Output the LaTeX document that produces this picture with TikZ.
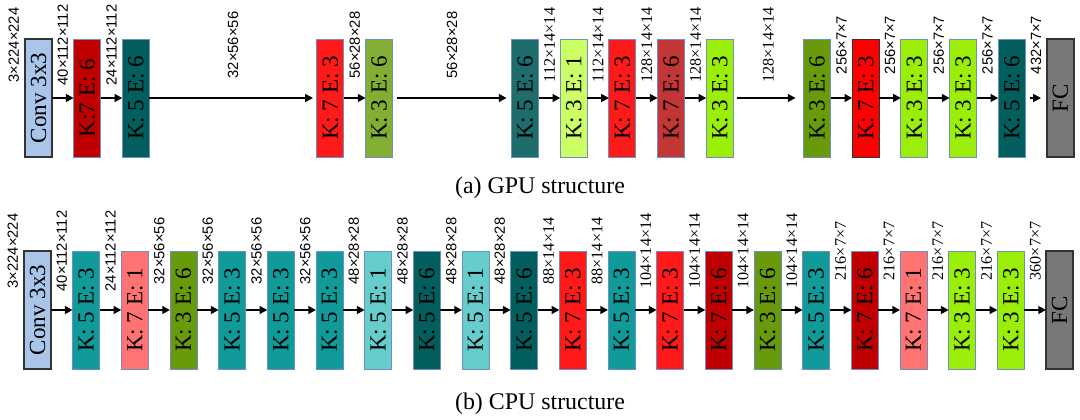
\documentclass[tikz,border=0pt]{standalone}
\usepackage{fontspec}
\setmainfont{Liberation Serif}
\newfontfamily\labsf{Liberation Sans}
\usepackage{xcolor}
\usepackage{tikz}
\usetikzlibrary{positioning}
\usetikzlibrary{arrows.meta}

\definecolor{convblue}{HTML}{A9C5EA}
\definecolor{fcgray}{HTML}{787878}
\definecolor{edgeblue}{HTML}{6F8FBF}
\definecolor{edgedark}{HTML}{333333}
\definecolor{darkred}{HTML}{C00000}
\definecolor{brick}{HTML}{C23636}
\definecolor{brightred}{HTML}{FF1A1A}
\definecolor{salmon}{HTML}{FF7373}
\definecolor{deepteal}{HTML}{035E5E}
\definecolor{midteal}{HTML}{1E6C6C}
\definecolor{teal}{HTML}{109A9A}
\definecolor{lightcyan}{HTML}{66CCCC}
\definecolor{olive}{HTML}{689A0C}
\definecolor{olivelt}{HTML}{82AE34}
\definecolor{lime}{HTML}{9AEE0A}
\definecolor{palelime}{HTML}{CCFF66}

\newcommand{\lay}[1]{\rotatebox{90}{#1}}
\newcommand{\dimsf}[1]{\rotatebox{90}{\labsf\fontsize{10.5}{11}\selectfont #1}}
\newcommand{\dimrm}[1]{\rotatebox{90}{\fontsize{11.5}{12}\selectfont #1}}

\begin{document}
\begin{tikzpicture}[node distance=0.5417cm]
  \tikzset{
    blk/.style={draw=edgeblue, line width=0.7pt, rectangle, minimum width=0.675cm,
      minimum height=2.95cm, inner sep=0pt, outer sep=0pt, font=\fontsize{16.4}{18}\selectfont},
    blkdark/.style={blk, draw=edgedark, line width=1pt},
    conv/.style={blkdark, fill=convblue},
    fc/.style={blkdark, fill=fcgray},
    k76/.style={blk, fill=darkred},
    k73/.style={blk, fill=brightred},
    k71/.style={blk, fill=salmon},
    k56/.style={blk, fill=deepteal},
    k53/.style={blk, fill=teal},
    k51/.style={blk, fill=lightcyan},
    k36/.style={blk, fill=olive},
    k33/.style={blk, fill=lime},
    k31/.style={blk, fill=palelime},
    arr/.style={line width=1.4pt, -{Triangle[length=5.5pt,width=5.5pt]}},
    dima/.style={inner sep=0pt, yshift=1.325cm},
    dimb/.style={inner sep=0pt, yshift=1.475cm},
    capt/.style={font=\fontsize{17}{19}\selectfont}
  }
  \useasboundingbox (0,0) rectangle (27,10.475);

  % (a) GPU row
  \node [conv] (aconv) at (0.9625,8.025) {\lay{Conv 3x3}};
  \node [k76, right=of aconv] (a1) {\lay{K:7 E: 6}};
  \node [k56, right=of a1] (a2) {\lay{K: 5 E: 6}};
  \node [k73, right=4.19cm of a2] (a3) {\lay{K: 7 E: 3}};
  \node [k36, fill=olivelt, right=of a3] (a4) {\lay{K: 3 E: 6}};
  \node [k56, fill=midteal, right=2.975cm of a4] (a5) {\lay{K: 5 E: 6}};
  \node [k31, right=of a5] (a6) {\lay{K: 3 E: 1}};
  \node [k73, right=of a6] (a7) {\lay{K: 7 E: 3}};
  \node [k76, fill=brick, right=of a7] (a8) {\lay{K: 7 E: 6}};
  \node [k33, right=of a8] (a9) {\lay{K: 3 E: 3}};
  \node [k36, right=1.758cm of a9] (a10) {\lay{K: 3 E: 6}};
  \node [k73, draw=edgedark, fill=red, right=of a10] (a11) {\lay{K: 7 E: 3}};
  \node [k33, right=of a11] (a12) {\lay{K: 3 E: 3}};
  \node [k33, right=of a12] (a13) {\lay{K: 3 E: 3}};
  \node [k56, right=of a13] (a14) {\lay{K: 5 E: 6}};
  \node [fc, right=of a14] (afc) {\lay{FC}};

  \node [dima, left=0.14cm of aconv] (ain) {\dimsf{3×224×224}};
  \draw [arr] (aconv) -- node[dima] {\dimsf{40×112×112}} (a1);
  \draw [arr] (a1) -- node[dima] {\dimsf{24×112×112}} (a2);
  \draw [arr, shorten >=0.1cm] (a2) -- node[dima] {\dimsf{32×56×56}} (a3);
  \draw [arr] (a3) -- node[dima] {\dimsf{56×28×28}} (a4);
  \draw [arr, shorten <=0.1cm, shorten >=0.125cm] (a4) -- node[dima] {\dimsf{56×28×28}} (a5);
  \draw [arr] (a5) -- node[dima] {\dimrm{112×14×14}} (a6);
  \draw [arr] (a6) -- node[dima] {\dimrm{112×14×14}} (a7);
  \draw [arr] (a7) -- node[dima] {\dimrm{128×14×14}} (a8);
  \draw [arr] (a8) -- node[dima] {\dimrm{128×14×14}} (a9);
  \draw [arr, shorten <=0.1cm, shorten >=0.2cm] (a9) -- node[dima] {\dimrm{128×14×14}} (a10);
  \draw [arr] (a10) -- node[dima] {\dimsf{256×7×7}} (a11);
  \draw [arr] (a11) -- node[dima] {\dimsf{256×7×7}} (a12);
  \draw [arr] (a12) -- node[dima] {\dimsf{256×7×7}} (a13);
  \draw [arr] (a13) -- node[dima] {\dimsf{256×7×7}} (a14);
  \draw [arr, shorten <=0.125cm, shorten >=0.15cm] (a14) -- node[dima] {\dimsf{432×7×7}} (afc);

  \node [capt] (capa) at (13.5,5.775) {(a) GPU structure};

  % (b) CPU row
  \node [conv, below=2.35cm of aconv, xshift=-0.025cm] (bconv) {\lay{Conv 3x3}};
  \node [k53, right=of bconv] (b1) {\lay{K: 5 E: 3}};
  \node [k71, right=of b1] (b2) {\lay{K: 7 E: 1}};
  \node [k36, right=of b2] (b3) {\lay{K: 3 E: 6}};
  \node [k53, right=of b3] (b4) {\lay{K: 5 E: 3}};
  \node [k53, right=of b4] (b5) {\lay{K: 5 E: 3}};
  \node [k53, right=of b5] (b6) {\lay{K: 5 E: 3}};
  \node [k51, right=of b6] (b7) {\lay{K: 5 E: 1}};
  \node [k56, right=of b7] (b8) {\lay{K: 5 E: 6}};
  \node [k51, right=of b8] (b9) {\lay{K: 5 E: 1}};
  \node [k56, right=of b9] (b10) {\lay{K: 5 E: 6}};
  \node [k73, right=of b10] (b11) {\lay{K: 7 E: 3}};
  \node [k53, right=of b11] (b12) {\lay{K: 5 E: 3}};
  \node [k73, right=of b12] (b13) {\lay{K: 7 E: 3}};
  \node [k76, right=of b13] (b14) {\lay{K: 7 E: 6}};
  \node [k36, right=of b14] (b15) {\lay{K: 3 E: 6}};
  \node [k53, right=of b15] (b16) {\lay{K: 5 E: 3}};
  \node [k76, right=of b16] (b17) {\lay{K: 7 E: 6}};
  \node [k71, right=of b17] (b18) {\lay{K: 7 E: 1}};
  \node [k33, right=of b18] (b19) {\lay{K: 3 E: 3}};
  \node [k33, right=of b19] (b20) {\lay{K: 3 E: 3}};
  \node [fc, right=of b20] (bfc) {\lay{FC}};

  \node [dimb, left=0.14cm of bconv] (bin) {\dimsf{3×224×224}};
  \draw [arr] (bconv) -- node[dimb] {\dimsf{40×112×112}} (b1);
  \draw [arr] (b1) -- node[dimb] {\dimsf{24×112×112}} (b2);
  \draw [arr] (b2) -- node[dimb] {\dimsf{32×56×56}} (b3);
  \draw [arr] (b3) -- node[dimb] {\dimsf{32×56×56}} (b4);
  \draw [arr] (b4) -- node[dimb] {\dimsf{32×56×56}} (b5);
  \draw [arr] (b5) -- node[dimb] {\dimsf{32×56×56}} (b6);
  \draw [arr] (b6) -- node[dimb] {\dimsf{48×28×28}} (b7);
  \draw [arr] (b7) -- node[dimb] {\dimsf{48×28×28}} (b8);
  \draw [arr] (b8) -- node[dimb] {\dimsf{48×28×28}} (b9);
  \draw [arr] (b9) -- node[dimb] {\dimsf{48×28×28}} (b10);
  \draw [arr] (b10) -- node[dimb] {\dimrm{88×14×14}} (b11);
  \draw [arr] (b11) -- node[dimb] {\dimrm{88×14×14}} (b12);
  \draw [arr] (b12) -- node[dimb] {\dimrm{104×14×14}} (b13);
  \draw [arr] (b13) -- node[dimb] {\dimrm{104×14×14}} (b14);
  \draw [arr] (b14) -- node[dimb] {\dimrm{104×14×14}} (b15);
  \draw [arr] (b15) -- node[dimb] {\dimrm{104×14×14}} (b16);
  \draw [arr] (b16) -- node[dimb] {\dimrm{216×7×7}} (b17);
  \draw [arr] (b17) -- node[dimb] {\dimrm{216×7×7}} (b18);
  \draw [arr] (b18) -- node[dimb] {\dimrm{216×7×7}} (b19);
  \draw [arr] (b19) -- node[dimb] {\dimrm{216×7×7}} (b20);
  \draw [arr] (b20) -- node[dimb] {\dimrm{360×7×7}} (bfc);

  \node [capt] (capb) at (13.5,0.375) {(b) CPU structure};
\end{tikzpicture}
\end{document}
